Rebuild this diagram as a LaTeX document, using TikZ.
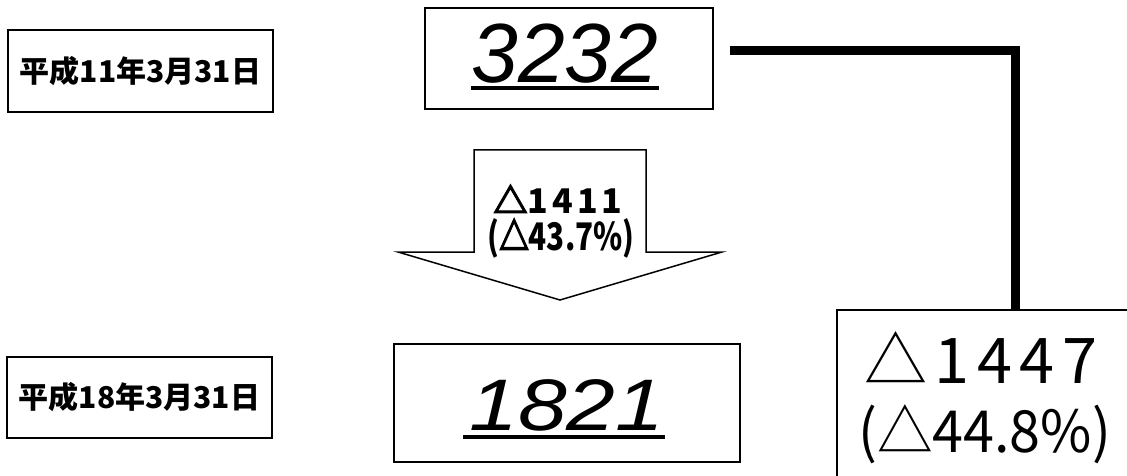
\documentclass[tikz,border=0pt]{standalone}
\usepackage{fontspec}
\usepackage{graphicx}
\setmainfont{Liberation Sans}
\newfontfamily\jpfont{Noto Sans CJK JP}
\newfontfamily\jpwide{Noto Sans CJK JP}[LetterSpace=12]
\newfontfamily\trifont{Noto Sans CJK JP}[FakeBold=4]
\newcommand{\tri}{{\trifont △}}
\usepackage{tikz}
\usetikzlibrary{calc}

\begin{document}
\begin{tikzpicture}[x=1pt,y=-1pt]
    \tikzstyle{frame} = [draw,line width=1.5pt,inner sep=0pt]
    \tikzstyle{uline} = [line width=4pt]
    \tikzstyle{link} = [line width=9pt,line join=miter]
    \useasboundingbox (0,0) rectangle (1127,476);
    \clip (0,0) rectangle (1127,476);
    % dates
    \node[frame,minimum width=265pt,minimum height=82pt,font=\jpfont\bfseries\fontsize{30}{34}\selectfont] (date1) at (140.5,71) {平成11年3月31日};
    \node[frame,minimum width=265pt,minimum height=81pt,font=\jpfont\bfseries\fontsize{30}{34}\selectfont] (date2) at (139.5,397.5) {平成18年3月31日};
    % numbers
    \node[frame,minimum width=288pt,minimum height=101pt] (box3232) at (569,58.5) {};
    \node[inner sep=0pt,anchor=base,font=\itshape\fontsize{84}{84}\selectfont] (n3232) at (565,83) {3232};
    \draw[uline] ($(n3232.base west)+(0,5)$) -- ($(n3232.base east)+(0,5)$);
    \node[frame,minimum width=346pt,minimum height=118pt] (box1821) at (567,403) {};
    \node[inner sep=0pt,anchor=base,font=\itshape\fontsize{73}{73}\selectfont] (n1821) at (567,430) {\scalebox{1.2}[1]{1821}};
    \draw[uline] ($(n1821.base west)+(-6,7)$) -- ($(n1821.base east)+(0,7)$);
    % arrow
    \draw[line width=1.5pt,fill=white] (474,150) -- (646,150) -- (646,252) -- (722,252) -- (560,300) -- (398,252) -- (474,252) -- cycle;
    \node[inner sep=0pt,anchor=base,font=\jpwide\bfseries\fontsize{34}{34}\selectfont] (diff1) at (558,213) {\tri1411};
    \node[inner sep=0pt,anchor=base,font=\jpfont\bfseries\fontsize{38}{38}\selectfont] (rate1) at (561,250) {\scalebox{0.78}[1]{(\tri43.7\%)}};
    % total
    \node[frame,minimum width=356pt,minimum height=220pt] (box1447) at (1015,420) {};
    \node[inner sep=0pt,anchor=base west,font=\jpwide\fontsize{63}{63}\selectfont] (diff2) at (864,383) {△1447};
    \node[inner sep=0pt,anchor=base west,font=\jpfont\fontsize{58}{58}\selectfont] (rate2) at (858,452) {\scalebox{0.96}[1]{(△44.8\%)}};
    \coordinate (linkstart) at (730,51);
    \draw[link] (linkstart) -| (box1447.north);
\end{tikzpicture}
\end{document}
